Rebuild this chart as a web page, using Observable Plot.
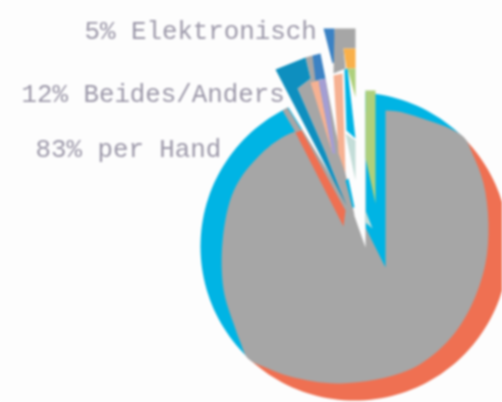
<!DOCTYPE html>
<html>
<head>
<meta charset="utf-8">
<script src="https://cdn.jsdelivr.net/npm/d3@7"></script>
<script src="https://cdn.jsdelivr.net/npm/@observablehq/plot@0.6"></script>
<style>
html,body{margin:0;padding:0;background:#fdfdfd;overflow:hidden}
svg{display:block;filter:blur(.8px)}
</style>
</head>
<body>
<div id="chart"></div>
<script>
const labels = ["5% Elektronisch", "12% Beides/Anders", "83% per Hand"];
const labelX = [84, 21, 35];
const labelY = [38, 101, 156];

const pieCenter = [354, 246];
const pieRadius = 154;
const blueSweep = [224, 404];
const coralSweep = [44, 224];

const grayAngles = [44.5, 52, 64, 80, 98, 117.7, 136, 156.8, 185.8, 206, 216, 223.7, 230, 237.5, 251.4, 272.6, 294.8, 312.5, 330.5, 12.8, 28.3];
const grayRadii  = [154.5, 150, 143.6, 136, 132, 131, 133, 135, 137.7, 145, 150, 154.5, 149, 143.4, 138, 132, 133, 131.6, 130, 139.5, 145];

const blueWedge = [[385,267],[385,100],[365,90],[365,227]];
const white = [[365,247],[365,80],[272,80],[288,107],[352,210]];
const green = [[365,90],[375,90],[375,203],[365,157]];
const pale = [[365,210],[372,228],[365,222]];
const coralSliver = [[295,132],[301,130],[345,210],[343,226]];
const graySliver = [[282,110],[287,107],[301,130],[295,132]];
const darkBlue = [[275,69],[305,57],[310,78],[297,88],[325,152],[332,170],[340,190],[346,205]];
const grayFan = [[305,57],[312,55],[318,80],[325,78],[335,130],[350,195],[354,215],[346,205],[325,152],[297,88],[310,78]];
const blueFan = [[312,55],[320,53],[325,78],[315,80]];
const salmonFan = [[310,82],[318,80],[332,153]];
const lavenderFan = [[318,80],[325,78],[335,153],[332,153]];
const blueTop = [[323,28],[334,28],[336,60],[332,63]];
const grayTop = [[334,28],[355,28],[355,48],[343,48],[345,68],[333,73]];
const orangeTop = [[343,48],[355,48],[355,68],[346,68]];
const greenTop = [[347,68],[355,68],[355,97]];
const brightTop = [[344,69],[347,68],[355,138],[346,130]];
const salmonTop = [[333,75],[342,73],[345,173],[338,153]];
const paleTop = [[345,133],[355,140],[355,180]];
const brightLow = [[345,180],[348,178],[354,207],[352,207]];

const polar = (deg, r) => {
  const t = deg * Math.PI / 180;
  return [pieCenter[0] + r * Math.sin(t), pieCenter[1] - r * Math.cos(t)];
};
const sector = ([a0, a1]) => [pieCenter, ...d3.range(a0, a1 + 0.5, 2).map(a => polar(a, pieRadius))];
const poly = (pts, fill, curve = "linear-closed") =>
  Plot.line(pts, {x: d => d[0], y: d => d[1], fill, stroke: "none", curve});

const grayLens = grayAngles.map((a, i) => polar(a, grayRadii[i]));

document.getElementById("chart").append(Plot.plot({
  width: 502,
  height: 402,
  margin: 0,
  style: {background: "#fdfdfd"},
  x: {domain: [0, 502], range: [0, 502], axis: null},
  y: {domain: [0, 402], range: [0, 402], axis: null},
  marks: [
    poly(sector(coralSweep), "#ef7052"),
    poly(sector(blueSweep), "#00b4e4"),
    poly(grayLens, "#a6a6a6", "catmull-rom-closed"),
    poly(blueWedge, "#00b4e4"),
    poly(white, "#fdfdfd"),
    poly(green, "#aed07c"),
    poly(pale, "#c3ddd8"),
    poly(graySliver, "#a6a6a6"),
    poly(coralSliver, "#ef7052"),
    poly(grayFan, "#a6a6a6"),
    poly(darkBlue, "#0e8fbf"),
    poly(blueFan, "#3b82c4"),
    poly(salmonFan, "#f6b192"),
    poly(lavenderFan, "#a49ed3"),
    poly(blueTop, "#3b82c4"),
    poly(grayTop, "#a6a6a6"),
    poly(orangeTop, "#f9b04a"),
    poly(greenTop, "#aed07c"),
    poly(brightTop, "#00b4e4"),
    poly(salmonTop, "#f6b192"),
    poly(paleTop, "#c3ddd8"),
    poly(brightLow, "#00b4e4"),
    Plot.text(labels, {
      x: (d, i) => labelX[i],
      y: (d, i) => labelY[i],
      text: d => d,
      textAnchor: "start",
      lineAnchor: "bottom",
      fontFamily: "Liberation Mono",
      fontSize: 25.8,
      fill: "#9c98a9"
    })
  ]
}));
</script>
</body>
</html>
